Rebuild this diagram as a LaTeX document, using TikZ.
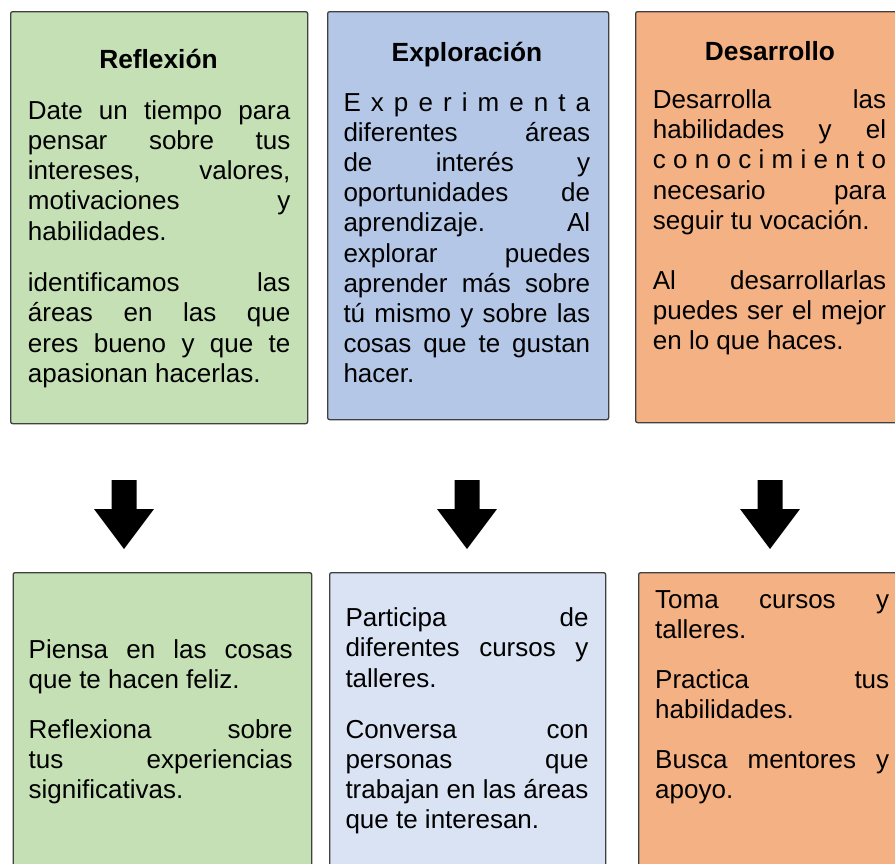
\documentclass[tikz,border=0pt]{standalone}
\usepackage{fontspec}
\setmainfont{Liberation Sans}
\definecolor{greenF}{RGB}{197,224,180}
\definecolor{blueF}{RGB}{180,199,231}
\definecolor{blueL}{RGB}{218,227,243}
\definecolor{orangeF}{RGB}{244,177,131}
\definecolor{edgeC}{RGB}{64,64,64}
\newcommand\bw{200pt}
\newcommand\jl[1]{\makebox[\bw][s]{\spaceskip=0pt\xspaceskip=0pt #1}}
\begin{document}
\begin{tikzpicture}[x=1pt,y=-1pt,
  box/.style={draw=edgeC, line width=1.3pt, rounded corners=2pt, anchor=north west, inner sep=0pt},
  ttl/.style={font=\fontsize{26.3}{30}\selectfont\bfseries, anchor=base, inner sep=0pt},
  body/.style={font=\fontsize{26}{30.2}\selectfont, anchor=base west, inner sep=0pt,
    text width=#1, execute at begin node={\renewcommand\bw{#1}\spaceskip=0pt\xspaceskip=0pt}},
  blockarrow/.pic={\fill[black] (-12.5,0) -- (12.5,0) -- (12.5,29) -- (30,29) -- (0,69) -- (-30,29) -- (-12.5,29) -- cycle;}
]
\useasboundingbox (0,0) rectangle (895,863);
\clip (0,0) rectangle (895,863);
\fill[white] (0,0) rectangle (895,863);

% top boxes
\node[box, fill=greenF, minimum width=297pt, minimum height=412pt] (b1) at (10,11) {};
\node[box, fill=blueF, minimum width=281pt, minimum height=408pt] (b2) at (327,11) {};
\node[box, fill=orangeF, minimum width=280pt, minimum height=411pt] (b3) at (635,11) {};

% bottom boxes
\node[box, fill=greenF, minimum width=298.5pt, minimum height=320pt] (c1) at (12.5,572) {};
\node[box, fill=blueL, minimum width=276pt, minimum height=320pt] (c2) at (329,572) {};
\node[box, fill=orangeF, minimum width=280pt, minimum height=320pt] (c3) at (638,572) {};

% titles
\node[ttl] (t1) at (158.5,68.3) {Reflexión};
\node[ttl] (t2) at (467,61.7) {Exploración};
\node[ttl] (t3) at (770,60) {Desarrollo};

% top texts
\node[body=262.5pt] (p1a) at (27.7,119.3) {\jl{Date un tiempo para}\\
\jl{pensar sobre tus}\\
\jl{intereses, valores,}\\
\jl{motivaciones y}\\
habilidades.};
\node[body=262.5pt] (p1b) at (27.7,291.7) {\jl{identificamos las}\\
\jl{áreas en las que}\\
\jl{eres bueno y que te}\\
apasionan hacerlas.};

\node[body=246.7pt] (p2a) at (343.3,111) {\jl{E x p e r i m e n t a}\\
\jl{diferentes áreas}\\
\jl{de interés y}\\
\jl{oportunidades de}\\
\jl{aprendizaje. Al}\\
\jl{explorar puedes}\\
\jl{aprender más sobre}\\
\jl{tú mismo y sobre las}\\
\jl{cosas que te gustan}\\
hacer.};

\node[body=233.3pt] (p3a) at (652.7,108.5) {\jl{Desarrolla las}\\
\jl{habilidades y el}\\
\jl{c o n o c i m i e n t o}\\
\jl{necesario para}\\
seguir tu vocación.};
\node[body=233.3pt] (p3b) at (652.7,289.5) {\jl{Al desarrollarlas}\\
\jl{puedes ser el mejor}\\
en lo que haces.};

% arrows
\pic at (124,480) {blockarrow};
\pic at (467,480) {blockarrow};
\pic at (770,480) {blockarrow};

% bottom texts
\node[body=264pt] (q1a) at (28.5,658.3) {\jl{Piensa en las cosas}\\
que te hacen feliz.};
\node[body=264pt] (q1b) at (28.5,738.3) {\jl{Reflexiona sobre}\\
\jl{tus experiencias}\\
significativas.};

\node[body=243pt] (q2a) at (345.3,626.7) {\jl{Participa de}\\
\jl{diferentes cursos y}\\
talleres.};
\node[body=243pt] (q2b) at (345.3,738.3) {\jl{Conversa con}\\
\jl{personas que}\\
\jl{trabajan en las áreas}\\
que te interesan.};

\node[body=234pt] (q3a) at (655,608.3) {\jl{Toma cursos y}\\
talleres.};
\node[body=234pt] (q3b) at (655,688.3) {\jl{Practica tus}\\
habilidades.};
\node[body=234pt] (q3c) at (655,768.3) {\jl{Busca mentores y}\\
apoyo.};
\end{tikzpicture}
\end{document}
